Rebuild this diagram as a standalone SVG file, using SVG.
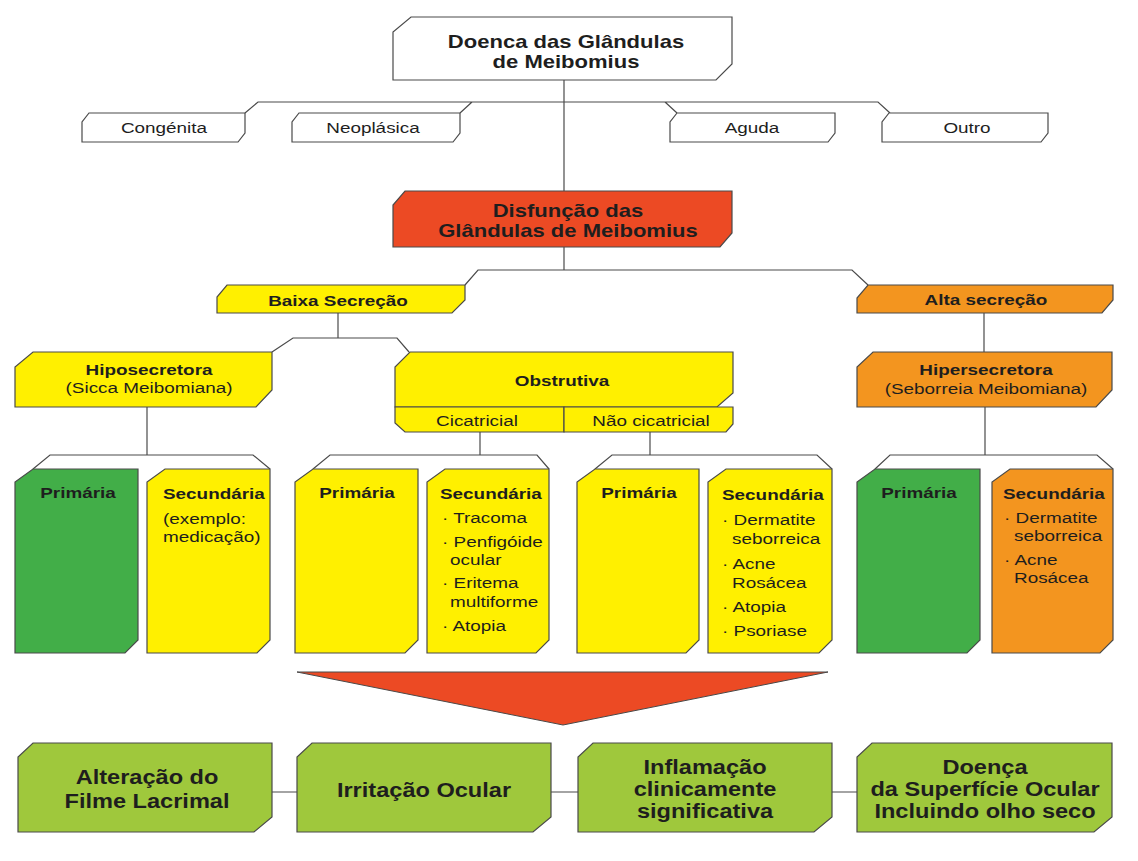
<svg xmlns="http://www.w3.org/2000/svg" width="1138" height="861" viewBox="0 0 1138 861">
<style>
.box{stroke:#4a4a4a;stroke-width:1.2;stroke-linejoin:miter}
.w{fill:#ffffff}
.r{fill:#ec4a24}
.y{fill:#fff000}
.o{fill:#f3951f}
.g{fill:#42ae48}
.lg{fill:#9fc83c}
.conn{fill:none;stroke:#4a4a4a;stroke-width:1.2}
text{font-family:"Liberation Sans",Arial,sans-serif;fill:#1e1e1e}
.c{text-anchor:middle}
.b{font-weight:bold}
.f15{font-size:15px}
.f175{font-size:17.5px}
.f19{font-size:20.5px}
</style>
<rect width="1138" height="861" fill="#ffffff"/>

<g id="connectors">
<path class="conn" d="M564,80 V191"/>
<path class="conn" d="M245,113 L258,102 H878 L890,113 M460,113 L472,102 M665,102 L677,113"/>
<path class="conn" d="M564,247 V270"/>
<path class="conn" d="M465,285 L478,270 H852 L868,285"/>
<path class="conn" d="M338,313 V338"/>
<path class="conn" d="M272,352 L293,338 H397 L409,352"/>
<path class="conn" d="M984,313 V352"/>
<path class="conn" d="M147,407 V455"/>
<path class="conn" d="M33,469 L50,455 H253 L270,469"/>
<path class="conn" d="M480,432 V455"/>
<path class="conn" d="M313,469 L330,455 H537 L549,469"/>
<path class="conn" d="M650,432 V455"/>
<path class="conn" d="M595,469 L612,455 H817 L832,469"/>
<path class="conn" d="M985,407 V455"/>
<path class="conn" d="M875,469 L890,455 H1097 L1113,469"/>
<path class="conn" d="M272,792 H297 M551,792 H578 M832,792 H857"/>
</g>

<g id="n-doenca">
<polygon class="box w" points="411,17 732,17 732,64 716,80 393,80 393,32"/>
<text class="c b f175" transform="translate(566,48) scale(1.26,1)">Doenca das Glândulas</text>
<text class="c b f175" transform="translate(566,68) scale(1.26,1)">de Meibomius</text>
</g>

<g id="n-congenita">
<polygon class="box w" points="89,113 245,113 245,133 238,142 82,142 82,122"/>
<text class="c f15" transform="translate(164,133) scale(1.26,1)">Congénita</text>
</g>
<g id="n-neoplasica">
<polygon class="box w" points="299,113 460,113 460,133 453,142 292,142 292,122"/>
<text class="c f15" transform="translate(373,133) scale(1.26,1)">Neoplásica</text>
</g>
<g id="n-aguda">
<polygon class="box w" points="677,113 835,113 835,133 828,142 670,142 670,122"/>
<text class="c f15" transform="translate(752,133) scale(1.26,1)">Aguda</text>
</g>
<g id="n-outro">
<polygon class="box w" points="889,113 1048,113 1048,133 1041,142 882,142 882,122"/>
<text class="c f15" transform="translate(967,133) scale(1.26,1)">Outro</text>
</g>

<g id="n-disfuncao">
<polygon class="box r" points="405,191 732,191 732,233 720,247 393,247 393,205"/>
<text class="c b f175" transform="translate(568,217) scale(1.26,1)">Disfunção das</text>
<text class="c b f175" transform="translate(568,237) scale(1.26,1)">Glândulas de Meibomius</text>
</g>

<g id="n-baixa">
<polygon class="box y" points="227,285 465,285 465,300 452,313 217,313 217,297"/>
<text class="c b f15" transform="translate(338,306) scale(1.26,1)">Baixa Secreção</text>
</g>
<g id="n-alta">
<polygon class="box o" points="868,285 1113,285 1113,300 1102,313 857,313 857,298"/>
<text class="c b f15" transform="translate(986,305) scale(1.26,1)">Alta secreção</text>
</g>

<g id="n-hipo">
<polygon class="box y" points="33,352 272,352 272,390 256,407 15,407 15,367"/>
<text class="c b f15" transform="translate(149,375) scale(1.26,1)">Hiposecretora</text>
<text class="c f15" transform="translate(149,393) scale(1.26,1)">(Sicca Meibomiana)</text>
</g>

<g id="n-obstrutiva">
<polygon class="box y" points="410,352 733,352 733,393 717,407 395,407 395,367"/>
<polygon class="box y" points="395,407 564,407 564,432 405,432 395,423"/>
<polygon class="box y" points="564,407 733,407 733,424 726,432 564,432"/>
<text class="c b f15" transform="translate(562,386) scale(1.26,1)">Obstrutiva</text>
<text class="c f15" transform="translate(477,426) scale(1.26,1)">Cicatricial</text>
<text class="c f15" transform="translate(651,426) scale(1.26,1)">Não cicatricial</text>
</g>

<g id="n-hiper">
<polygon class="box o" points="873,352 1112,352 1112,390 1096,407 857,407 857,367"/>
<text class="c b f15" transform="translate(986,375) scale(1.26,1)">Hipersecretora</text>
<text class="c f15" transform="translate(986,394) scale(1.26,1)">(Seborreia Meibomiana)</text>
</g>

<g id="n-prim1">
<polygon class="box g" points="33,469 138,469 138,640 125,653 15,653 15,482"/>
<text class="c b f15" transform="translate(78,498) scale(1.26,1)">Primária</text>
</g>
<g id="n-sec1">
<polygon class="box y" points="165,469 270,469 270,640 257,653 147,653 147,482"/>
<text class="b f15" transform="translate(163,499) scale(1.26,1)">Secundária</text>
<text class="f15" transform="translate(163,524) scale(1.26,1)">(exemplo:</text>
<text class="f15" transform="translate(163,542) scale(1.26,1)">medicação)</text>
</g>

<g id="n-prim2">
<polygon class="box y" points="313,469 418,469 418,640 405,653 295,653 295,482"/>
<text class="c b f15" transform="translate(357,498) scale(1.26,1)">Primária</text>
</g>
<g id="n-sec2">
<polygon class="box y" points="445,469 549,469 549,640 536,653 427,653 427,482"/>
<text class="b f15" transform="translate(440,499) scale(1.26,1)">Secundária</text>
<text class="f15" transform="translate(442,523) scale(1.26,1)">· Tracoma</text>
<text class="f15" transform="translate(442,547) scale(1.26,1)">· Penfigóide</text>
<text class="f15" transform="translate(450,565) scale(1.26,1)">ocular</text>
<text class="f15" transform="translate(442,588) scale(1.26,1)">· Eritema</text>
<text class="f15" transform="translate(450,607) scale(1.26,1)">multiforme</text>
<text class="f15" transform="translate(442,631) scale(1.26,1)">· Atopia</text>
</g>

<g id="n-prim3">
<polygon class="box y" points="595,469 699,469 699,640 686,653 577,653 577,482"/>
<text class="c b f15" transform="translate(639,498) scale(1.26,1)">Primária</text>
</g>
<g id="n-sec3">
<polygon class="box y" points="726,469 832,469 832,640 819,653 708,653 708,482"/>
<text class="b f15" transform="translate(722,500) scale(1.26,1)">Secundária</text>
<text class="f15" transform="translate(722,525) scale(1.26,1)">· Dermatite</text>
<text class="f15" transform="translate(732,544) scale(1.26,1)">seborreica</text>
<text class="f15" transform="translate(722,569) scale(1.26,1)">· Acne</text>
<text class="f15" transform="translate(732,588) scale(1.26,1)">Rosácea</text>
<text class="f15" transform="translate(722,612) scale(1.26,1)">· Atopia</text>
<text class="f15" transform="translate(722,636) scale(1.26,1)">· Psoriase</text>
</g>

<g id="n-prim4">
<polygon class="box g" points="875,469 980,469 980,640 967,653 857,653 857,482"/>
<text class="c b f15" transform="translate(919,498) scale(1.26,1)">Primária</text>
</g>
<g id="n-sec4">
<polygon class="box o" points="1010,469 1113,469 1113,640 1100,653 992,653 992,482"/>
<text class="b f15" transform="translate(1003,499) scale(1.26,1)">Secundária</text>
<text class="f15" transform="translate(1004,523) scale(1.26,1)">· Dermatite</text>
<text class="f15" transform="translate(1014,541) scale(1.26,1)">seborreica</text>
<text class="f15" transform="translate(1004,565) scale(1.26,1)">· Acne</text>
<text class="f15" transform="translate(1014,583) scale(1.26,1)">Rosácea</text>
</g>

<g id="n-seta">
<polygon points="297,672 828,672 563,725" fill="#ec4a24" stroke="#4a4a4a" stroke-width="1"/>
</g>

<g id="n-alteracao">
<polygon class="box lg" points="33,743 272,743 272,817 254,832 18,832 18,757"/>
<text class="c b f19" transform="translate(147,784) scale(1.15,1)">Alteração do</text>
<text class="c b f19" transform="translate(147,808) scale(1.15,1)">Filme Lacrimal</text>
</g>
<g id="n-irritacao">
<polygon class="box lg" points="312,743 551,743 551,817 533,832 297,832 297,757"/>
<text class="c b f19" transform="translate(424,797) scale(1.15,1)">Irritação Ocular</text>
</g>
<g id="n-inflamacao">
<polygon class="box lg" points="593,743 832,743 832,817 814,832 578,832 578,757"/>
<text class="c b f19" transform="translate(705,774) scale(1.15,1)">Inflamação</text>
<text class="c b f19" transform="translate(705,796) scale(1.15,1)">clinicamente</text>
<text class="c b f19" transform="translate(705,818) scale(1.15,1)">significativa</text>
</g>
<g id="n-doenca-superficie">
<polygon class="box lg" points="872,743 1112,743 1112,817 1094,832 857,832 857,757"/>
<text class="c b f19" transform="translate(985,774) scale(1.15,1)">Doença</text>
<text class="c b f19" transform="translate(985,796) scale(1.15,1)">da Superfície Ocular</text>
<text class="c b f19" transform="translate(985,818) scale(1.15,1)">Incluindo olho seco</text>
</g>
</svg>
